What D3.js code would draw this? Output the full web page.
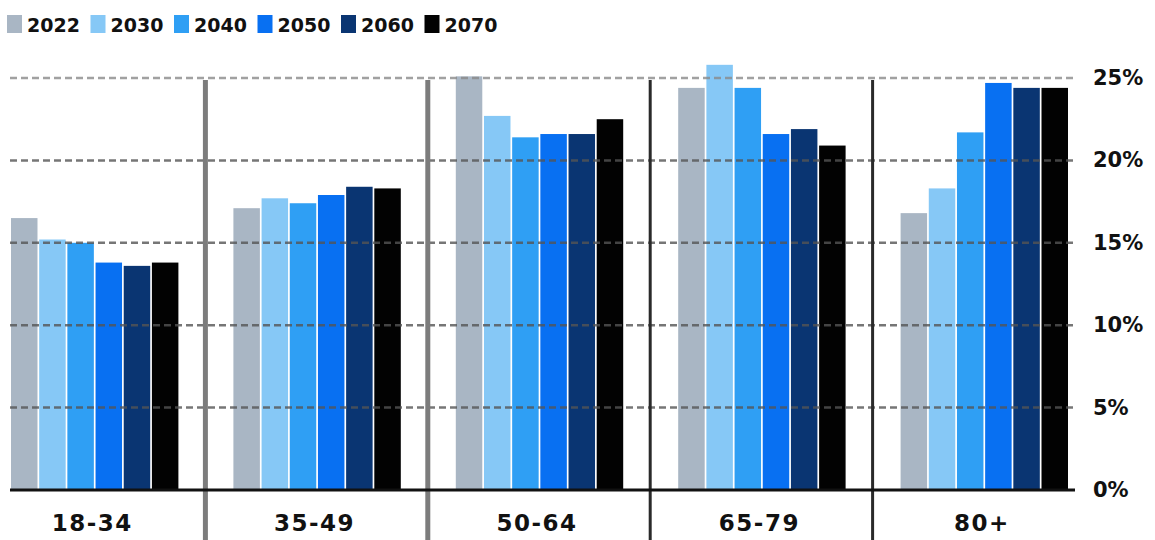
<!DOCTYPE html>
<html>
<head>
<meta charset="utf-8">
<script src="https://cdn.jsdelivr.net/npm/d3@7"></script>
<style>
  body { margin: 0; background: #fff; }
  svg text { font-family: "DejaVu Sans", sans-serif; font-weight: bold; fill: #111; }
</style>
</head>
<body>
<div id="chart"></div>
<script>
const WIDTH = 1155;
const HEIGHT = 540;

const AGE_GROUPS = ['18-34', '35-49', '50-64', '65-79', '80+'];
const YEARS = ['2022', '2030', '2040', '2050', '2060', '2070'];
const COLORS = ['#a9b6c4', '#86c8f6', '#2f9ff4', '#0870f2', '#0a3572', '#020202'];

// share of population (%) per age group, one array per year
const V2022 = [16.5, 17.1, 25.1, 24.4, 16.8];
const V2030 = [15.2, 17.7, 22.7, 25.8, 18.3];
const V2040 = [15.0, 17.4, 21.4, 24.4, 21.7];
const V2050 = [13.8, 17.9, 21.6, 21.6, 24.7];
const V2060 = [13.6, 18.4, 21.6, 21.9, 24.4];
const V2070 = [13.8, 18.3, 22.5, 20.9, 24.4];
const SERIES = [V2022, V2030, V2040, V2050, V2060, V2070];

const Y_TICKS = [0, 5, 10, 15, 20, 25];

document.addEventListener('DOMContentLoaded', function() {
  drawChart();
});

function drawChart()
{
  var svg = d3.select('#chart').append('svg')
    .attr('width', WIDTH)
    .attr('height', HEIGHT);

  var x0 = d3.scaleBand()
    .domain(AGE_GROUPS)
    .range([-17, 1095]);

  var x1 = d3.scaleBand()
    .domain(YEARS)
    .range([28, x0.bandwidth() - 27])
    .paddingInner(0.06);

  var y = d3.scaleLinear()
    .domain([0, 25])
    .range([490, 78]);

  var color = d3.scaleOrdinal().domain(YEARS).range(COLORS);

  // bars
  var rows = [];
  AGE_GROUPS.forEach(function(g, gi) {
    YEARS.forEach(function(yr, yi) {
      rows.push({ group: g, year: yr, value: SERIES[yi][gi] });
    });
  });

  svg.append('g').selectAll('rect')
    .data(rows)
    .enter()
    .append('rect')
    .attr('x', function(d) { return x0(d.group) + x1(d.year); })
    .attr('y', function(d) { return y(d.value); })
    .attr('width', x1.bandwidth())
    .attr('height', function(d) { return y(0) - y(d.value); })
    .style('fill', function(d) { return color(d.year); });

  // dashed gridlines, drawn over the bars
  svg.append('g').selectAll('line')
    .data(Y_TICKS.filter(function(t) { return t > 0; }))
    .enter()
    .append('line')
    .attr('x1', 10)
    .attr('x2', 1075)
    .attr('y1', function(d) { return y(d); })
    .attr('y2', function(d) { return y(d); })
    .style('stroke', function(d) { return d == 25 ? '#8a8a8a' : '#555'; })
    .style('stroke-width', 2.5)
    .style('stroke-dasharray', '7,4')
    .style('opacity', 0.8);

  // group separators
  var seps = AGE_GROUPS.slice(1);
  svg.append('g').selectAll('line')
    .data(seps)
    .enter()
    .append('line')
    .attr('x1', function(d) { return x0(d); })
    .attr('x2', function(d) { return x0(d); })
    .attr('y1', y(25) + 2)
    .attr('y2', HEIGHT)
    .style('stroke', function(d, i) { return i < 2 ? '#7c7c7c' : '#2a2a2a'; })
    .style('stroke-width', function(d, i) { return i < 2 ? 5 : 3; });

  // baseline
  svg.append('line')
    .attr('x1', 10)
    .attr('x2', 1075)
    .attr('y1', y(0))
    .attr('y2', y(0))
    .style('stroke', '#111')
    .style('stroke-width', 3);

  // y tick labels on the right
  svg.append('g').selectAll('text')
    .data(Y_TICKS)
    .enter()
    .append('text')
    .attr('x', 1093)
    .attr('y', function(d) { return y(d) + 7; })
    .style('font-size', '21px')
    .text(function(d) { return d + '%'; });

  // x labels
  svg.append('g').selectAll('text')
    .data(AGE_GROUPS)
    .enter()
    .append('text')
    .attr('x', function(d) { return x0(d) + x0.bandwidth() / 2 - 2; })
    .attr('y', 531)
    .attr('text-anchor', 'middle')
    .style('font-size', '23px')
    .style('letter-spacing', '1.5px')
    .text(function(d) { return d; });

  // legend
  var legend = svg.append('g').selectAll('g')
    .data(YEARS)
    .enter()
    .append('g')
    .attr('transform', function(d, i) { return 'translate(' + (7 + i * 83.5) + ',0)'; });

  legend.append('rect')
    .attr('x', 0)
    .attr('y', 15)
    .attr('width', 15)
    .attr('height', 18)
    .style('fill', function(d) { return color(d); });

  legend.append('text')
    .attr('x', 20)
    .attr('y', 32)
    .style('font-size', '19px')
    .text(function(d) { return d; });
}
</script>
</body>
</html>
